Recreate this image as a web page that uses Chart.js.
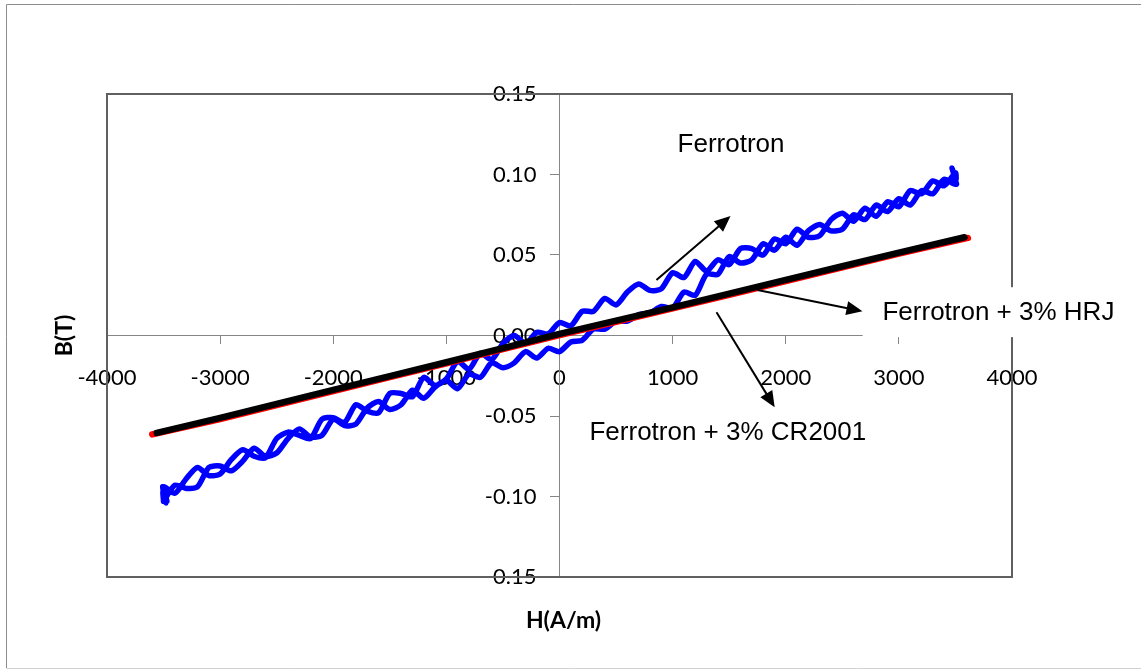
<!DOCTYPE html>
<html><head><meta charset="utf-8">
<script src="https://cdn.jsdelivr.net/npm/chart.js@4.4.1/dist/chart.umd.min.js"></script>
<style>html,body{margin:0;padding:0;background:#fff;}#wrap{width:1141px;height:669px;position:relative;}</style>
</head><body><div id="wrap"><canvas id="c"></canvas></div>
<script>
// H grid (A/m) for the Ferrotron loop branches
const hGrid = [-3500,-3400,-3300,-3200,-3100,-3000,-2900,-2800,-2700,-2600,-2500,-2400,-2300,-2200,-2100,-2000,-1900,-1800,-1700,-1600,-1500,-1400,-1300,-1200,-1100,-1000,-900,-800,-700,-600,-500,-400,-300,-200,-100,0,100,200,300,400,500,600,700,800,900,1000,1100,1200,1300,1400,1500,1600,1700,1800,1900,2000,2100,2200,2300,2400,2500,2600,2700,2800,2900,3000,3100,3200,3300,3400,3500];
// Ferrotron descending (upper) branch, B(T) at hGrid
const ferroUpperB = [-0.094,-0.098,-0.089,-0.082,-0.087,-0.086,-0.077,-0.071,-0.075,-0.076,-0.064,-0.060,-0.062,-0.064,-0.052,-0.051,-0.054,-0.043,-0.047,-0.048,-0.036,-0.036,-0.038,-0.026,-0.031,-0.027,-0.016,-0.021,-0.011,-0.015,-0.005,0.000,-0.005,0.002,0.001,0.008,0.006,0.015,0.015,0.023,0.019,0.027,0.032,0.028,0.029,0.039,0.036,0.046,0.040,0.047,0.044,0.054,0.054,0.050,0.060,0.057,0.066,0.061,0.062,0.072,0.076,0.071,0.079,0.074,0.083,0.080,0.090,0.088,0.096,0.093,0.101];
// Ferrotron ascending (lower) branch, B(T) at hGrid
const ferroLowerB = [-0.103,-0.093,-0.095,-0.094,-0.082,-0.081,-0.084,-0.078,-0.070,-0.075,-0.073,-0.064,-0.058,-0.063,-0.062,-0.052,-0.056,-0.055,-0.045,-0.041,-0.046,-0.043,-0.034,-0.039,-0.032,-0.028,-0.033,-0.024,-0.026,-0.017,-0.020,-0.017,-0.010,-0.014,-0.008,-0.010,-0.004,-0.003,0.004,0.004,0.009,0.009,0.013,0.014,0.018,0.017,0.027,0.025,0.038,0.038,0.049,0.045,0.047,0.057,0.053,0.061,0.056,0.065,0.069,0.065,0.066,0.075,0.072,0.081,0.077,0.085,0.081,0.090,0.088,0.097,0.094];
// loop tips
const tipPosH = [3470,3510,3480,3505];
const tipPosB = [0.104,0.094,0.102,0.097];
const tipNegH = [-3480,-3510,-3470,-3505];
const tipNegB = [-0.104,-0.094,-0.103,-0.097];
// Ferrotron + 3% HRJ (black) and + 3% CR2001 (red)
const blackH = [-3560,-3000,-2500,-2000,-1500,-1000,-500,0,500,1000,1500,2000,2500,3000,3580];
const blackB = [-0.0605,-0.0512,-0.0425,-0.0338,-0.0252,-0.0166,-0.0078,0.0010,0.0092,0.0175,0.0260,0.0345,0.0430,0.0515,0.0610];
const redH = [-3600,-3000,-2500,-2000,-1500,-1000,-500,0,500,1000,1500,2000,2500,3000,3610];
const redB = [-0.0614,-0.0519,-0.0432,-0.0345,-0.0259,-0.0173,-0.0085,0.0003,0.0085,0.0168,0.0253,0.0338,0.0423,0.0508,0.0606];
const xTicks = [-4000,-3000,-2000,-1000,0,1000,2000,3000,4000];
const yTicks = [-0.15,-0.10,-0.05,0.00,0.05,0.10,0.15];
const xTitle = 'H(A/m)';
const yTitle = 'B(T)';
const labels = ['Ferrotron','Ferrotron + 3% HRJ','Ferrotron + 3% CR2001'];

function pts(hs, bs){ return hs.map((h,i)=>({x:h, y:bs[i]})); }
const loop = [].concat(
  pts(hGrid, ferroLowerB),
  pts(tipPosH, tipPosB),
  pts(hGrid.slice().reverse(), ferroUpperB.slice().reverse()),
  pts(tipNegH, tipNegB),
  [{x:hGrid[0], y:ferroLowerB[0]}]
);
const fmtY = v => (Math.abs(v)<1e-9?0:v).toFixed(2);

function arrow(ctx,x1,y1,x2,y2){
  const a=Math.atan2(y2-y1,x2-x1), L=16, W=7;
  ctx.beginPath(); ctx.moveTo(x1,y1); ctx.lineTo(x2-L*0.8*Math.cos(a), y2-L*0.8*Math.sin(a));
  ctx.lineWidth=2; ctx.strokeStyle='#000'; ctx.stroke();
  ctx.beginPath(); ctx.moveTo(x2,y2);
  ctx.lineTo(x2-L*Math.cos(a)+W*Math.sin(a), y2-L*Math.sin(a)-W*Math.cos(a));
  ctx.lineTo(x2-L*Math.cos(a)-W*Math.sin(a), y2-L*Math.sin(a)+W*Math.cos(a));
  ctx.closePath(); ctx.fillStyle='#000'; ctx.fill();
}

const decor = {
  id:'decor',
  beforeDraw(chart){
    const ctx=chart.ctx; ctx.save();
    ctx.fillStyle='#fff'; ctx.fillRect(0,0,chart.width,chart.height);
    ctx.lineWidth=1;
    ctx.strokeStyle='#8c8c8c';
    ctx.beginPath(); ctx.moveTo(6.5,668); ctx.lineTo(6.5,4.5); ctx.lineTo(chart.width,4.5); ctx.stroke();
    ctx.strokeStyle='#d2d2d2';
    ctx.beginPath(); ctx.moveTo(6.5,668.5); ctx.lineTo(chart.width,668.5); ctx.stroke();
    ctx.restore();
  },
  beforeDatasetsDraw(chart){
    const ctx=chart.ctx, sx=chart.scales.x, sy=chart.scales.y;
    ctx.save();
    ctx.fillStyle='#000'; ctx.font='22px Lato, sans-serif';
    ctx.textAlign='right'; ctx.textBaseline='middle';
    const xr = sx.getPixelForValue(0) - 23;
    yTicks.forEach(v=>ctx.fillText(fmtY(v), xr, sy.getPixelForValue(v)));
    ctx.restore();
  },
  afterDraw(chart){
    const ctx=chart.ctx, ca=chart.chartArea, sx=chart.scales.x, sy=chart.scales.y;
    const X=v=>sx.getPixelForValue(v), Y=v=>sy.getPixelForValue(v);
    ctx.save();
    ctx.strokeStyle='#606060'; ctx.lineWidth=2;
    ctx.strokeRect(ca.left, ca.top, ca.right-ca.left, ca.bottom-ca.top);
    ctx.fillStyle='#fff';
    ctx.fillRect(X(2680), Y(0.0300), chart.width-X(2680), Y(-0.0010)-Y(0.0300));
    ctx.fillStyle='#000'; ctx.font='26px "Liberation Sans", Arial, sans-serif';
    ctx.textBaseline='middle';
    ctx.textAlign='center'; ctx.fillText(labels[0], X(1516), Y(0.1183));
    ctx.textAlign='left';
    ctx.fillText(labels[1], X(2855), Y(0.0139));
    ctx.fillText(labels[2], X(265), Y(-0.0607));
    arrow(ctx, X(857), Y(0.0344), X(1512), Y(0.0742));
    arrow(ctx, X(1750), Y(0.0282), X(2678), Y(0.0151));
    arrow(ctx, X(1388), Y(0.0145), X(1902), Y(-0.0446));
    ctx.font='bold 23px Lato, sans-serif'; ctx.textAlign='center';
    ctx.fillText(xTitle, (ca.left+ca.right)/2+4, ca.bottom+44);
    ctx.translate(65, (ca.top+ca.bottom)/2); ctx.rotate(-Math.PI/2);
    ctx.fillText(yTitle, 0, 0);
    ctx.restore();
  }
};

new Chart(document.getElementById('c'), {
  type:'scatter',
  data:{datasets:[
    {label:labels[1], data:pts(blackH, blackB), showLine:true, borderColor:'#000', borderWidth:6.5, pointRadius:0, borderCapStyle:'round', borderJoinStyle:'round', order:1},
    {label:labels[2], data:pts(redH, redB), showLine:true, borderColor:'#ff0000', borderWidth:6.5, pointRadius:0, borderCapStyle:'round', borderJoinStyle:'round', order:2},
    {label:labels[0], data:loop, showLine:true, borderColor:'#0000ff', borderWidth:5.5, pointRadius:0, tension:0.25, borderCapStyle:'round', borderJoinStyle:'round', order:3}
  ]},
  options:{
    responsive:true, maintainAspectRatio:false, animation:false,
    layout:{padding:{left:107, top:94, right:129, bottom:92}},
    plugins:{legend:{display:false}, tooltip:{enabled:false}},
    scales:{
      x:{type:'linear', min:-4000, max:4000, position:{y:0},
        afterBuildTicks:s=>{s.ticks=xTicks.map(v=>({value:v}));},
        ticks:{autoSkip:false, maxRotation:0, padding:21, color:'#000', font:{family:'Lato', size:22}, callback:v=>String(v)},
        grid:{drawOnChartArea:false, drawTicks:true, tickLength:8, color:'#868686', tickColor:'#868686'},
        border:{display:true, color:'#868686', width:1}},
      y:{type:'linear', min:-0.15, max:0.15, position:{x:0},
        afterBuildTicks:s=>{s.ticks=yTicks.map(v=>({value:v}));},
        ticks:{display:false},
        grid:{drawOnChartArea:false, drawTicks:true, tickLength:9, color:'#868686', tickColor:'#868686'},
        border:{display:true, color:'#868686', width:1}}
    }
  },
  plugins:[decor]
});
</script></body></html>
